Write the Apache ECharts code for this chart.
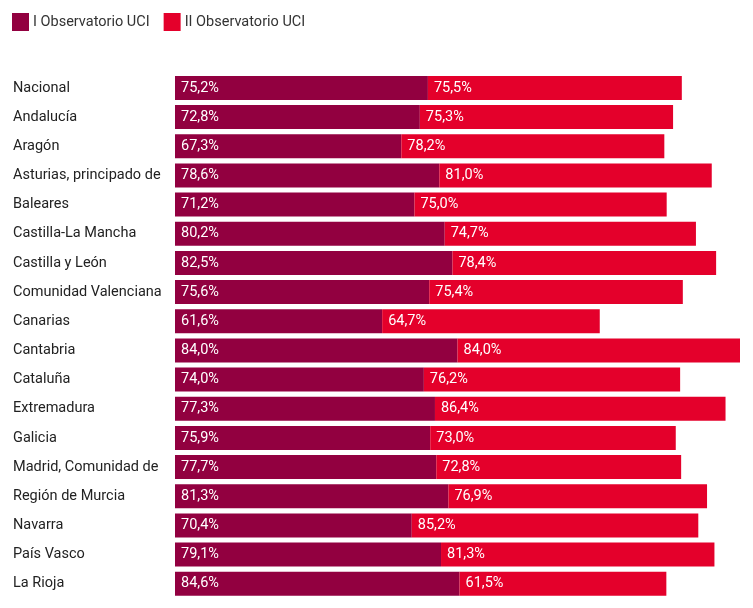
<!DOCTYPE html>
<html><head><meta charset="utf-8">
<script src="https://cdn.jsdelivr.net/npm/echarts@6/dist/echarts.min.js"></script>
<style>html,body{margin:0;padding:0;background:#fff}#c{width:753px;height:608px}</style>
</head><body><div id="c"></div>
<script>
const categories = ["Nacional","Andalucía","Aragón","Asturias, principado de","Baleares","Castilla-La Mancha","Castilla y León","Comunidad Valenciana","Canarias","Cantabria","Cataluña","Extremadura","Galicia","Madrid, Comunidad de","Región de Murcia","Navarra","País Vasco","La Rioja"];
const obs1 = [75.2,72.8,67.3,78.6,71.2,80.2,82.5,75.6,61.6,84.0,74.0,77.3,75.9,77.7,81.3,70.4,79.1,84.6];
const obs2 = [75.5,75.3,78.2,81.0,75.0,74.7,78.4,75.4,64.7,84.0,76.2,86.4,73.0,72.8,76.9,85.2,81.3,61.5];
const seriesNames = ["I Observatorio UCI","II Observatorio UCI"];
const colors = ["#920040","#e4002b"];
const fmt = p => p.value.toFixed(1).replace('.', ',') + '%';
const chart = echarts.init(document.getElementById('c'));
const lbl = {show:true, position:'insideLeft', distance:6, color:'#fff', fontFamily:'Roboto', fontSize:14.5, formatter:fmt};
chart.setOption({
  animation:false,
  textStyle:{fontFamily:'Roboto'},
  legend:{left:7, top:8, itemWidth:17, itemHeight:18, itemGap:14, icon:'rect',
    textStyle:{fontFamily:'Roboto', fontSize:14.5, color:'#333', padding:[0,0,0,-1]}, data:seriesNames},
  grid:{left:175, right:13, top:73.3, bottom:9.7, containLabel:false},
  xAxis:{type:'value', min:0, max:'dataMax', show:false},
  yAxis:{type:'category', inverse:true, data:categories,
    axisLine:{show:false}, axisTick:{show:false},
    axisLabel:{align:'left', margin:162, fontFamily:'Roboto', fontSize:14.5, color:'#222'}},
  series:[
    {name:seriesNames[0], type:'bar', stack:'s', data:obs1, barCategoryGap:'17.7%', itemStyle:{color:colors[0]}, label:lbl},
    {name:seriesNames[1], type:'bar', stack:'s', data:obs2, itemStyle:{color:colors[1]}, label:lbl}
  ]
});
</script></body></html>
